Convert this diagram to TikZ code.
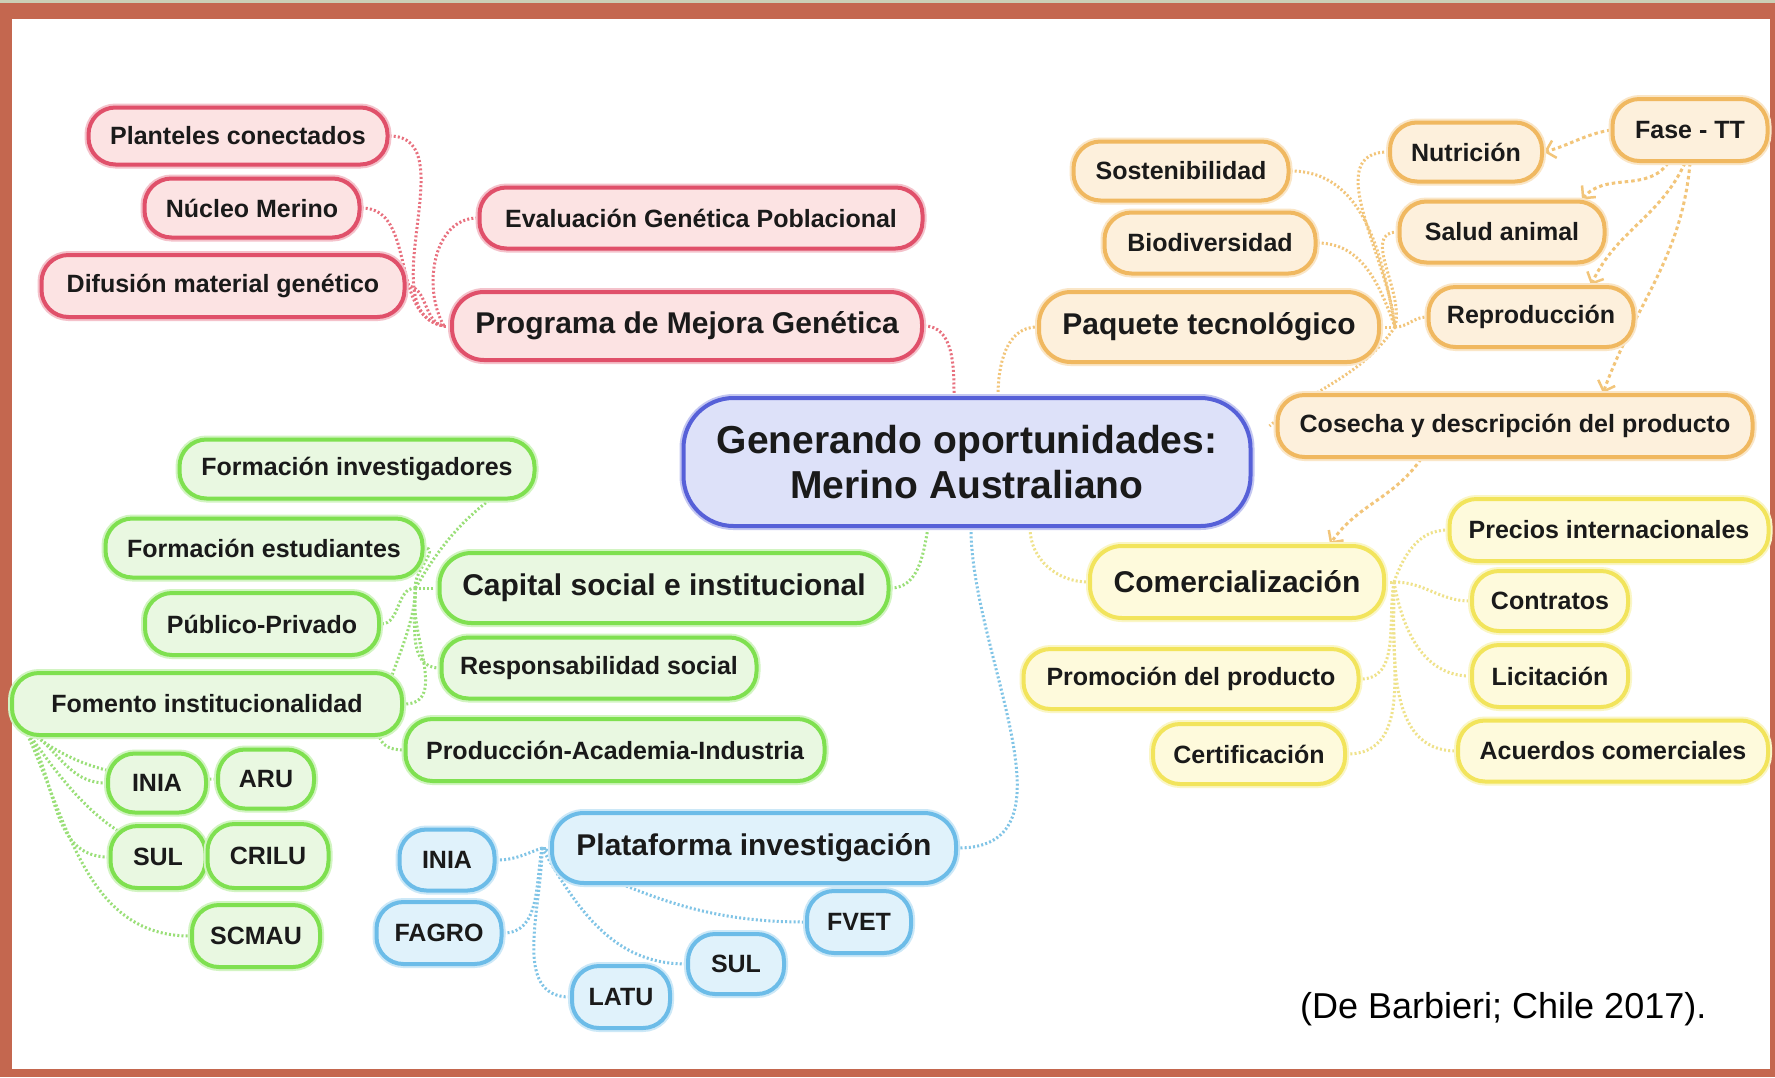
\documentclass[tikz,border=0pt]{standalone}
\usepackage{fontspec}
\setmainfont{Liberation Sans}
\usetikzlibrary{arrows.meta}
\definecolor{frameB}{HTML}{C4674F}
\definecolor{topS}{HTML}{CBCFB5}
\definecolor{txt}{HTML}{1A1A1A}
\definecolor{redB}{HTML}{E0506A}
\definecolor{redF}{HTML}{FCE3E3}
\definecolor{redL}{HTML}{E8707E}
\definecolor{oraB}{HTML}{F0B860}
\definecolor{oraF}{HTML}{FDF0DC}
\definecolor{oraL}{HTML}{F2C57A}
\definecolor{yelB}{HTML}{F2E45C}
\definecolor{yelF}{HTML}{FEFADC}
\definecolor{yelL}{HTML}{EFE28A}
\definecolor{greB}{HTML}{7FE050}
\definecolor{greF}{HTML}{E9F8E1}
\definecolor{greL}{HTML}{9ADF78}
\definecolor{bluB}{HTML}{6CBCE8}
\definecolor{bluF}{HTML}{E0F2FB}
\definecolor{bluL}{HTML}{80C4E6}
\definecolor{cenB}{HTML}{5660D8}
\definecolor{cenF}{HTML}{DDE1F9}
\pgfdeclarelayer{framelayer}
\pgfdeclarelayer{bg}
\pgfsetlayers{framelayer,bg,main}
\tikzset{
  nd/.style={shape=rectangle, rounded corners=27pt, line width=4pt, inner sep=0pt,
    font=\fontsize{25}{30}\selectfont\bfseries, text=txt},
  big/.style={rounded corners=32pt, font=\fontsize{30}{36}\selectfont\bfseries},
  rbox/.style={nd, draw=redB, fill=redF, preaction={draw=redB!35, line width=8pt}},
  obox/.style={nd, draw=oraB, fill=oraF, preaction={draw=oraB!35, line width=8pt}},
  ybox/.style={nd, draw=yelB, fill=yelF, preaction={draw=yelB!35, line width=8pt}},
  gbox/.style={nd, draw=greB, fill=greF, preaction={draw=greB!35, line width=8pt}},
  bbox/.style={nd, draw=bluB, fill=bluF, preaction={draw=bluB!35, line width=8pt}},
  cbox/.style={nd, draw=cenB, fill=cenF, rounded corners=50pt, align=center,
    font=\fontsize{39}{45}\selectfont\bfseries, preaction={draw=cenB!35, line width=8pt}},
  conn/.style={line width=3pt, dash pattern=on 2pt off 2.2pt},
  rl/.style={conn, draw=redL},
  ol/.style={conn, draw=oraL},
  yl/.style={conn, draw=yelL},
  gl/.style={conn, draw=greL},
  bl/.style={conn, draw=bluL},
  oa/.style={line width=3pt, draw=oraL, dash pattern=on 3.5pt off 3pt,
    -{Straight Barb[length=9pt,width=18pt,line width=2.5pt]}},
}
\begin{document}
\begin{tikzpicture}[x=1pt,y=-1pt]
\useasboundingbox (0,0) rectangle (1775,1077);
\begin{pgfonlayer}{framelayer}
  \fill[frameB] (0,0) rectangle (1775,1077);
  \fill[topS] (0,0) rectangle (1775,3);
  \fill[white] (12,19) rectangle (1770,1069);
\end{pgfonlayer}

% centre
\node[cbox, minimum width=567pt, minimum height=128pt] (center) at (967,462) {Generando oportunidades:\\Merino Australiano};

% red
\node[rbox, minimum width=299pt, minimum height=57pt] (plant) at (238,136) {Planteles conectados};
\node[rbox, minimum width=215pt, minimum height=59pt] (nucleo) at (252,208) {Núcleo Merino};
\node[rbox, minimum width=363pt, minimum height=62pt] (difus) at (223,286) {Difusión material genético};
\node[rbox, minimum width=443pt, minimum height=61pt] (eval) at (701,218) {Evaluación Genética Poblacional};
\node[rbox, big, minimum width=470pt, minimum height=68pt] (prog) at (687,326) {Programa de Mejora Genética};

% orange
\node[obox, minimum width=215pt, minimum height=59pt] (sost) at (1181,171) {Sostenibilidad};
\node[obox, minimum width=211pt, minimum height=61pt] (biod) at (1210,243) {Biodiversidad};
\node[obox, big, minimum width=340pt, minimum height=70pt] (pq) at (1209,327) {Paquete tecnológico};
\node[obox, minimum width=152pt, minimum height=59pt] (nut) at (1466,152) {Nutrición};
\node[obox, minimum width=155pt, minimum height=62pt] (fase) at (1690,130) {Fase - TT};
\node[obox, minimum width=205pt, minimum height=61pt] (salud) at (1502,232) {Salud animal};
\node[obox, minimum width=205pt, minimum height=60pt] (rep) at (1531,317) {Reproducción};
\node[obox, minimum width=475pt, minimum height=62pt] (cos) at (1515,426) {Cosecha y descripción del producto};

% yellow
\node[ybox, big, minimum width=294pt, minimum height=72pt] (com) at (1237,582) {Comercialización};
\node[ybox, minimum width=319pt, minimum height=62pt] (prec) at (1609,530) {Precios internacionales};
\node[ybox, minimum width=156pt, minimum height=60pt] (contr) at (1550,601) {Contratos};
\node[ybox, minimum width=156pt, minimum height=62pt] (licit) at (1550,676) {Licitación};
\node[ybox, minimum width=310pt, minimum height=61pt] (acu) at (1613,751) {Acuerdos comerciales};
\node[ybox, minimum width=335pt, minimum height=60pt] (promo) at (1191,679) {Promoción del producto};
\node[ybox, minimum width=192pt, minimum height=60pt] (cert) at (1249,754) {Certificación};

% green
\node[gbox, minimum width=355pt, minimum height=59pt] (finv) at (357,469) {Formación investigadores};
\node[gbox, minimum width=317pt, minimum height=59pt] (fest) at (264,548) {Formación estudiantes};
\node[gbox, big, minimum width=449pt, minimum height=70pt] (cap) at (664,588) {Capital social e institucional};
\node[gbox, minimum width=234pt, minimum height=62pt] (pub) at (262,624) {Público-Privado};
\node[gbox, minimum width=315pt, minimum height=61pt] (resp) at (599,668) {Responsabilidad social};
\node[gbox, minimum width=390pt, minimum height=62pt] (fom) at (207,704) {Fomento institucionalidad};
\node[gbox, minimum width=419pt, minimum height=62pt] (prod) at (615,750) {Producción-Academia-Industria};
\node[gbox, minimum width=98pt, minimum height=59pt] (inia1) at (157,783) {INIA};
\node[gbox, minimum width=96pt, minimum height=59pt] (aru) at (266,779) {ARU};
\node[gbox, minimum width=95pt, minimum height=62pt] (sul1) at (158,857) {SUL};
\node[gbox, minimum width=121pt, minimum height=64pt] (crilu) at (268,856) {CRILU};
\node[gbox, minimum width=128pt, minimum height=62pt] (scmau) at (256,936) {SCMAU};

% blue
\node[bbox, big, minimum width=404pt, minimum height=70pt] (plat) at (754,848) {Plataforma investigación};
\node[bbox, minimum width=95pt, minimum height=61pt] (inia2) at (447,860) {INIA};
\node[bbox, minimum width=125pt, minimum height=62pt] (fagro) at (439,933) {FAGRO};
\node[bbox, minimum width=104pt, minimum height=62pt] (fvet) at (859,922) {FVET};
\node[bbox, minimum width=96pt, minimum height=60pt] (sul2) at (736,964) {SUL};
\node[bbox, minimum width=98pt, minimum height=62pt] (latu) at (621,997) {LATU};

% citation
\node[anchor=base west, inner sep=0pt, font=\fontsize{36}{40}\selectfont, text=black] (cite) at (1300,1018) {(De Barbieri; Chile 2017).};

% hubs
\coordinate (pqh) at ([xshift=14pt]pq.east);
\coordinate (comh) at ([xshift=8pt]com.east);
\coordinate (caph) at ([xshift=-22pt]cap.west);
\coordinate (fomh) at ([xshift=14pt,yshift=10pt]fom.south west);
\coordinate (plath) at ([xshift=-8pt]plat.west);
\coordinate (progh) at ([xshift=-6pt]prog.west);

\begin{pgfonlayer}{bg}
  % red
  \draw[rl] (prog.east) to[out=0,in=90] ([xshift=-13pt]center.north);
  \draw[rl] (prog.west) -- (progh);
  \draw[rl] (plant.east) to[out=0,in=170] (progh);
  \draw[rl] (nucleo.east) to[out=0,in=170] (progh);
  \draw[rl] (difus.east) to[out=0,in=170] (progh);
  \draw[rl] (eval.west) to[out=180,in=120] (progh);
  % orange
  \draw[ol] ([xshift=31pt]center.north) to[out=90,in=180] (pq.west);
  \draw[ol] (pq.east) -- (pqh);
  \draw[ol] (sost.east) to[out=0,in=100] (pqh);
  \draw[ol] (biod.east) to[out=0,in=110] (pqh);
  \draw[ol] (pqh) to[out=95,in=180] (nut.west);
  \draw[ol] (pqh) to[out=75,in=180] (salud.west);
  \draw[ol] (pqh) to[out=0,in=180] (rep.west);
  \draw[ol] (pqh) to[out=-125,in=40] ([xshift=-6pt]cos.west);
  \draw[oa] (fase.west) to[out=190,in=15] (nut.east);
  \draw[oa] ([xshift=-22pt]fase.south) to[out=235,in=50] ([xshift=80pt]salud.north);
  \draw[oa] ([xshift=-5pt]fase.south) to[out=245,in=65] ([xshift=60pt]rep.north);
  \draw[oa] (fase.south) to[out=265,in=70] ([xshift=88pt]cos.north);
  \draw[oa] ([xshift=-94pt]cos.south) to[out=235,in=55] ([xshift=93pt]com.north);
  % yellow
  \draw[yl] ([xshift=63pt]center.south) to[out=-90,in=180] (com.west);
  \draw[yl] (com.east) -- (comh);
  \draw[yl] (comh) to[out=70,in=180] (prec.west);
  \draw[yl] (comh) to[out=0,in=180] (contr.west);
  \draw[yl] (comh) to[out=-80,in=180] (licit.west);
  \draw[yl] (comh) to[out=-90,in=180] (acu.west);
  \draw[yl] (comh) to[out=-100,in=0] (promo.east);
  \draw[yl] (comh) to[out=-95,in=0] (cert.east);
  % green
  \draw[gl] ([xshift=-39pt]center.south) to[out=-100,in=0] (cap.east);
  \draw[gl] (cap.west) -- (caph);
  \draw[gl] (caph) to[out=60,in=210] (finv.east);
  \draw[gl] (caph) to[out=100,in=0] (fest.east);
  \draw[gl] (caph) to[out=180,in=0] (pub.east);
  \draw[gl] (caph) to[out=-90,in=180] (resp.west);
  \draw[gl] (caph) to[out=-100,in=0] (fom.east);
  \draw[gl] (caph) to[out=-90,in=180] (prod.west);
  \draw[gl] (fomh) to[out=-30,in=180] (inia1.west);
  \draw[gl] (fomh) to[out=-40,in=180] (aru.west);
  \draw[gl] (fomh) to[out=-55,in=180] (sul1.west);
  \draw[gl] (fomh) to[out=-55,in=180] (crilu.west);
  \draw[gl] (fomh) to[out=-65,in=180] (scmau.west);
  % blue
  \draw[bl] ([xshift=4pt]center.south) to[out=-90,in=0] (plat.east);
  \draw[bl] (plat.west) -- (plath);
  \draw[bl] (plath) to[out=200,in=0] (inia2.east);
  \draw[bl] (plath) to[out=-100,in=0] (fagro.east);
  \draw[bl] (plath) to[out=-90,in=180] (latu.west);
  \draw[bl] (plath) to[out=-60,in=180] (sul2.west);
  \draw[bl] (plath) to[out=-25,in=180] (fvet.west);
\end{pgfonlayer}
\end{tikzpicture}
\end{document}
